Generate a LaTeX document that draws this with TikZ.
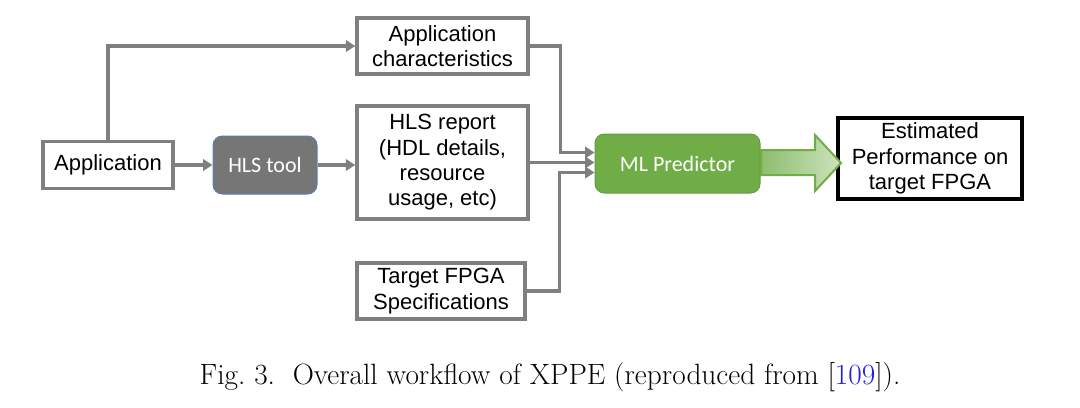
\documentclass[tikz,border=0pt]{standalone}
\usepackage{fontspec}
\setmainfont{Liberation Sans}
\newfontfamily\calibri{Carlito}
\newfontfamily\capfont{Latin Modern Roman}
\usetikzlibrary{arrows.meta,calc}
\definecolor{linegray}{HTML}{7F7F7F}
\definecolor{toolgray}{HTML}{767676}
\definecolor{toolblue}{HTML}{5B7DB5}
\definecolor{mlgreen}{HTML}{70AD47}
\definecolor{citeblue}{HTML}{1F1FE0}
\tikzset{
  infobox/.style={draw=linegray, line width=2.6pt, align=center, inner sep=0pt,
    font=\fontsize{16.5}{19}\selectfont},
  conn/.style={draw=linegray, line width=2.6pt, -{Triangle[length=7pt,width=8.5pt]}}
}

\begin{document}
\begin{tikzpicture}[x=0.75pt, y=-0.75pt]
    \useasboundingbox (0,0) rectangle (1080,407);
    \node[infobox, minimum width=97.5pt, minimum height=35.25pt] (appl) at (108,165) {Application};
    \node[draw=toolblue, line width=0.75pt, fill=toolgray, rounded corners=7pt, text=white,
      minimum width=78pt, minimum height=43.5pt, font=\calibri\fontsize{16.5}{19}\selectfont] (hls) at (265,165) {HLS tool};
    \node[infobox, minimum width=128.25pt, minimum height=42pt] (chars) at (442.5,46) {Application\\characteristics};
    \node[infobox, minimum width=128.25pt, minimum height=84.75pt] (report) at (442.5,162.5) {HLS report\\(HDL details,\\resource\\usage, etc)};
    \node[infobox, minimum width=126pt, minimum height=42pt] (target) at (441,291) {Target FPGA\\Specifications};
    \node[draw=mlgreen!90!black, line width=0.75pt, fill=mlgreen, rounded corners=7pt, text=white,
      minimum width=123.75pt, minimum height=44.25pt, font=\calibri\fontsize{16.5}{19}\selectfont] (ml) at (677.5,163.5) {ML Predictor};
    \node[draw=black, line width=2.4pt, align=center, inner sep=0pt, minimum width=138pt, minimum height=60.75pt,
      font=\fontsize{16.5}{19}\selectfont] (est) at (930,158.5) {Estimated\\Performance on\\target FPGA};

    \draw[conn] (appl.north) |- (chars.west);
    \draw[conn] (appl) -- (appl -| hls.west);
    \draw[conn] (hls) -- (hls -| report.west);
    \draw[conn] (chars.east) -- ++(31,0) |- ($(ml.west)+(0,-11)$);
    \draw[conn] (report.east) -- (report.east -| ml.west);
    \draw[conn] (target.east) -- ++(33,0) |- ($(ml.west)+(0,9)$);

    \draw[draw=mlgreen, line width=1.5pt, left color=mlgreen!80!white, right color=mlgreen!35!white]
      (761,150) -- (815,150) -- (815,135) -- (841,163) -- (815,191) -- (815,175) -- (761,175) -- cycle;

    \node[font=\capfont\fontsize{22}{26}\selectfont] (caption) at (550,377)
      {Fig.~3.\ \ Overall workflow of XPPE (reproduced from [\textcolor{citeblue}{109}]).};
  \end{tikzpicture}
\end{document}
